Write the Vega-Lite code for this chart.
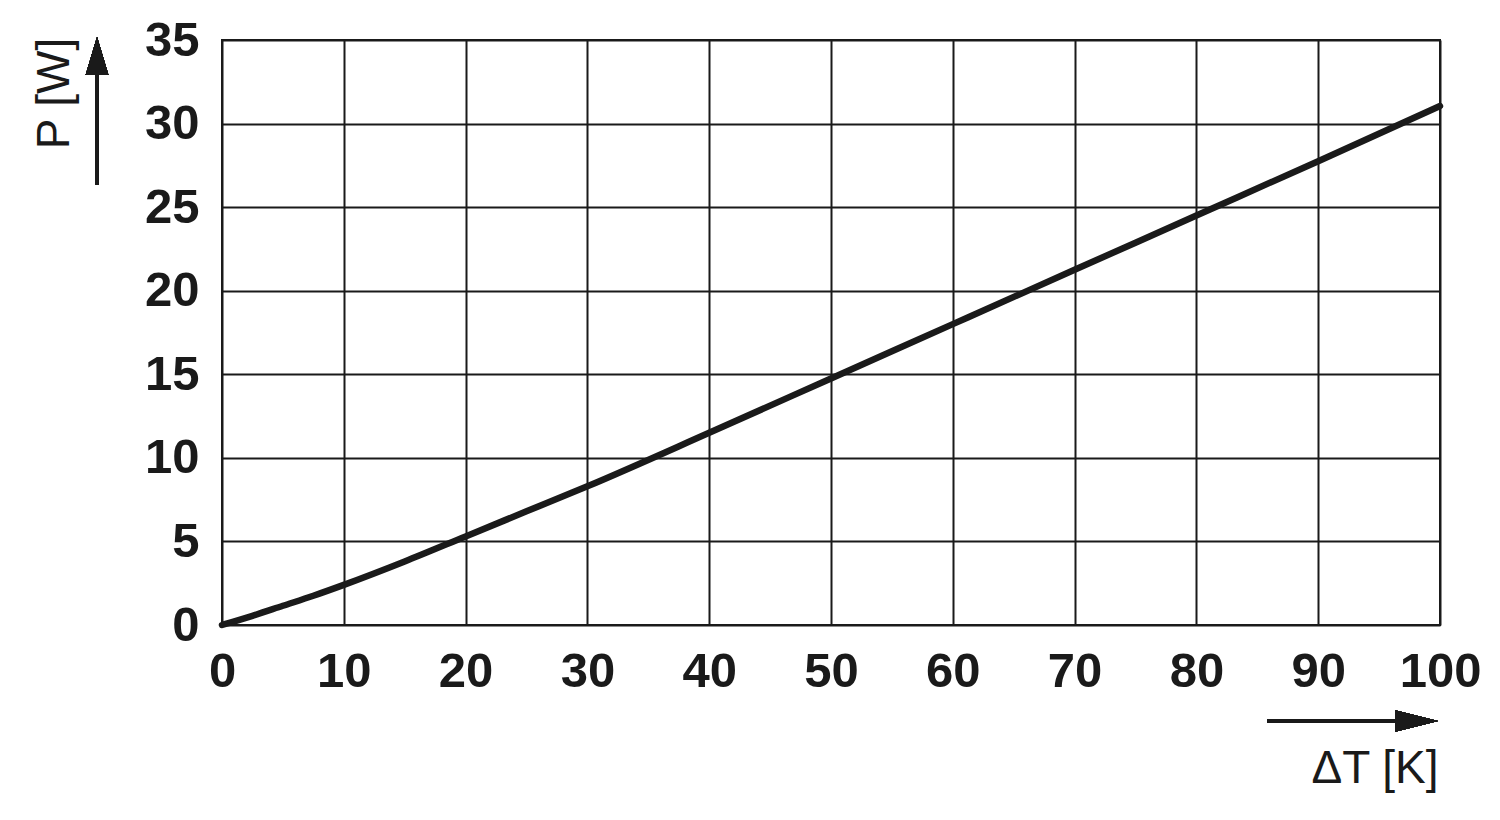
{
  "$schema": "https://vega.github.io/schema/vega-lite/v6.json",
  "width": 1218,
  "height": 585,
  "autosize": "none",
  "padding": {"left": 222, "top": 40, "right": 60, "bottom": 195},
  "background": "white",
  "config": {
    "view": {"stroke": "#1a1a1a", "strokeWidth": 2},
    "font": "Liberation Sans"
  },
  "data": {
    "values": [
      {"dT": 0, "P": 0},
      {"dT": 2.5, "P": 0.55},
      {"dT": 5, "P": 1.15},
      {"dT": 7.5, "P": 1.75},
      {"dT": 10, "P": 2.4},
      {"dT": 15, "P": 3.8},
      {"dT": 20, "P": 5.3},
      {"dT": 25, "P": 6.8},
      {"dT": 30, "P": 8.3},
      {"dT": 40, "P": 11.5},
      {"dT": 50, "P": 14.75},
      {"dT": 60, "P": 18.0},
      {"dT": 70, "P": 21.25},
      {"dT": 80, "P": 24.5},
      {"dT": 90, "P": 27.75},
      {"dT": 100, "P": 31.05}
    ]
  },
  "layer": [
    {
      "mark": {"type": "line", "color": "#1a1a1a", "strokeWidth": 6.5, "strokeCap": "round", "strokeJoin": "round", "interpolate": "monotone"},
      "encoding": {
        "x": {
          "field": "dT", "type": "quantitative",
          "scale": {"domain": [0, 100], "nice": false, "zero": true},
          "axis": {
            "values": [0, 10, 20, 30, 40, 50, 60, 70, 80, 90, 100],
            "grid": true, "gridColor": "#1a1a1a", "gridWidth": 2, "gridOpacity": 1,
            "domain": false, "ticks": false,
            "labelFont": "Liberation Sans", "labelFontWeight": "bold", "labelFontSize": 49, "labelColor": "#1a1a1a",
            "labelPadding": 22, "labelFlush": false,
            "title": "ΔT [K]", "titleFont": "Liberation Sans", "titleFontWeight": "normal", "titleFontSize": 46, "titleColor": "#1a1a1a",
            "titleAlign": "right", "titleAnchor": null, "titleBaseline": "alphabetic", "titleX": 1216, "titleY": 157
          }
        },
        "y": {
          "field": "P", "type": "quantitative",
          "scale": {"domain": [0, 35], "nice": false},
          "axis": {
            "values": [0, 5, 10, 15, 20, 25, 30, 35],
            "grid": true, "gridColor": "#1a1a1a", "gridWidth": 2, "gridOpacity": 1,
            "domain": false, "ticks": false,
            "labelFont": "Liberation Sans", "labelFontWeight": "bold", "labelFontSize": 49, "labelColor": "#1a1a1a",
            "labelPadding": 23, "labelFlush": false,
            "title": "P [W]", "titleFont": "Liberation Sans", "titleFontWeight": "normal", "titleFontSize": 46, "titleColor": "#1a1a1a",
            "titleAngle": -90, "titleAlign": "center", "titleBaseline": "alphabetic", "titleX": -154, "titleY": 53
          }
        }
      }
    },
    {
      "mark": {"type": "rule", "color": "#1a1a1a", "strokeWidth": 2.5, "clip": false},
      "encoding": {
        "x": {"datum": -10.26, "type": "quantitative"},
        "y": {"datum": 26.33, "type": "quantitative"},
        "y2": {"datum": 33.8}
      }
    },
    {
      "mark": {"type": "point", "shape": "M0,-1L-0.6,1L0.6,1Z", "size": 1444, "filled": true, "color": "#1a1a1a", "opacity": 1, "clip": false},
      "encoding": {
        "x": {"datum": -10.26, "type": "quantitative"},
        "y": {"datum": 34.05, "type": "quantitative"}
      }
    },
    {
      "mark": {"type": "rule", "color": "#1a1a1a", "strokeWidth": 2.5, "clip": false},
      "encoding": {
        "x": {"datum": 85.8, "type": "quantitative"},
        "x2": {"datum": 97.7},
        "y": {"datum": -5.745, "type": "quantitative"}
      }
    },
    {
      "mark": {"type": "point", "shape": "M1,0L-1,-0.5L-1,0.5Z", "size": 1849, "filled": true, "color": "#1a1a1a", "opacity": 1, "clip": false},
      "encoding": {
        "x": {"datum": 98.07, "type": "quantitative"},
        "y": {"datum": -5.745, "type": "quantitative"}
      }
    }
  ]
}
